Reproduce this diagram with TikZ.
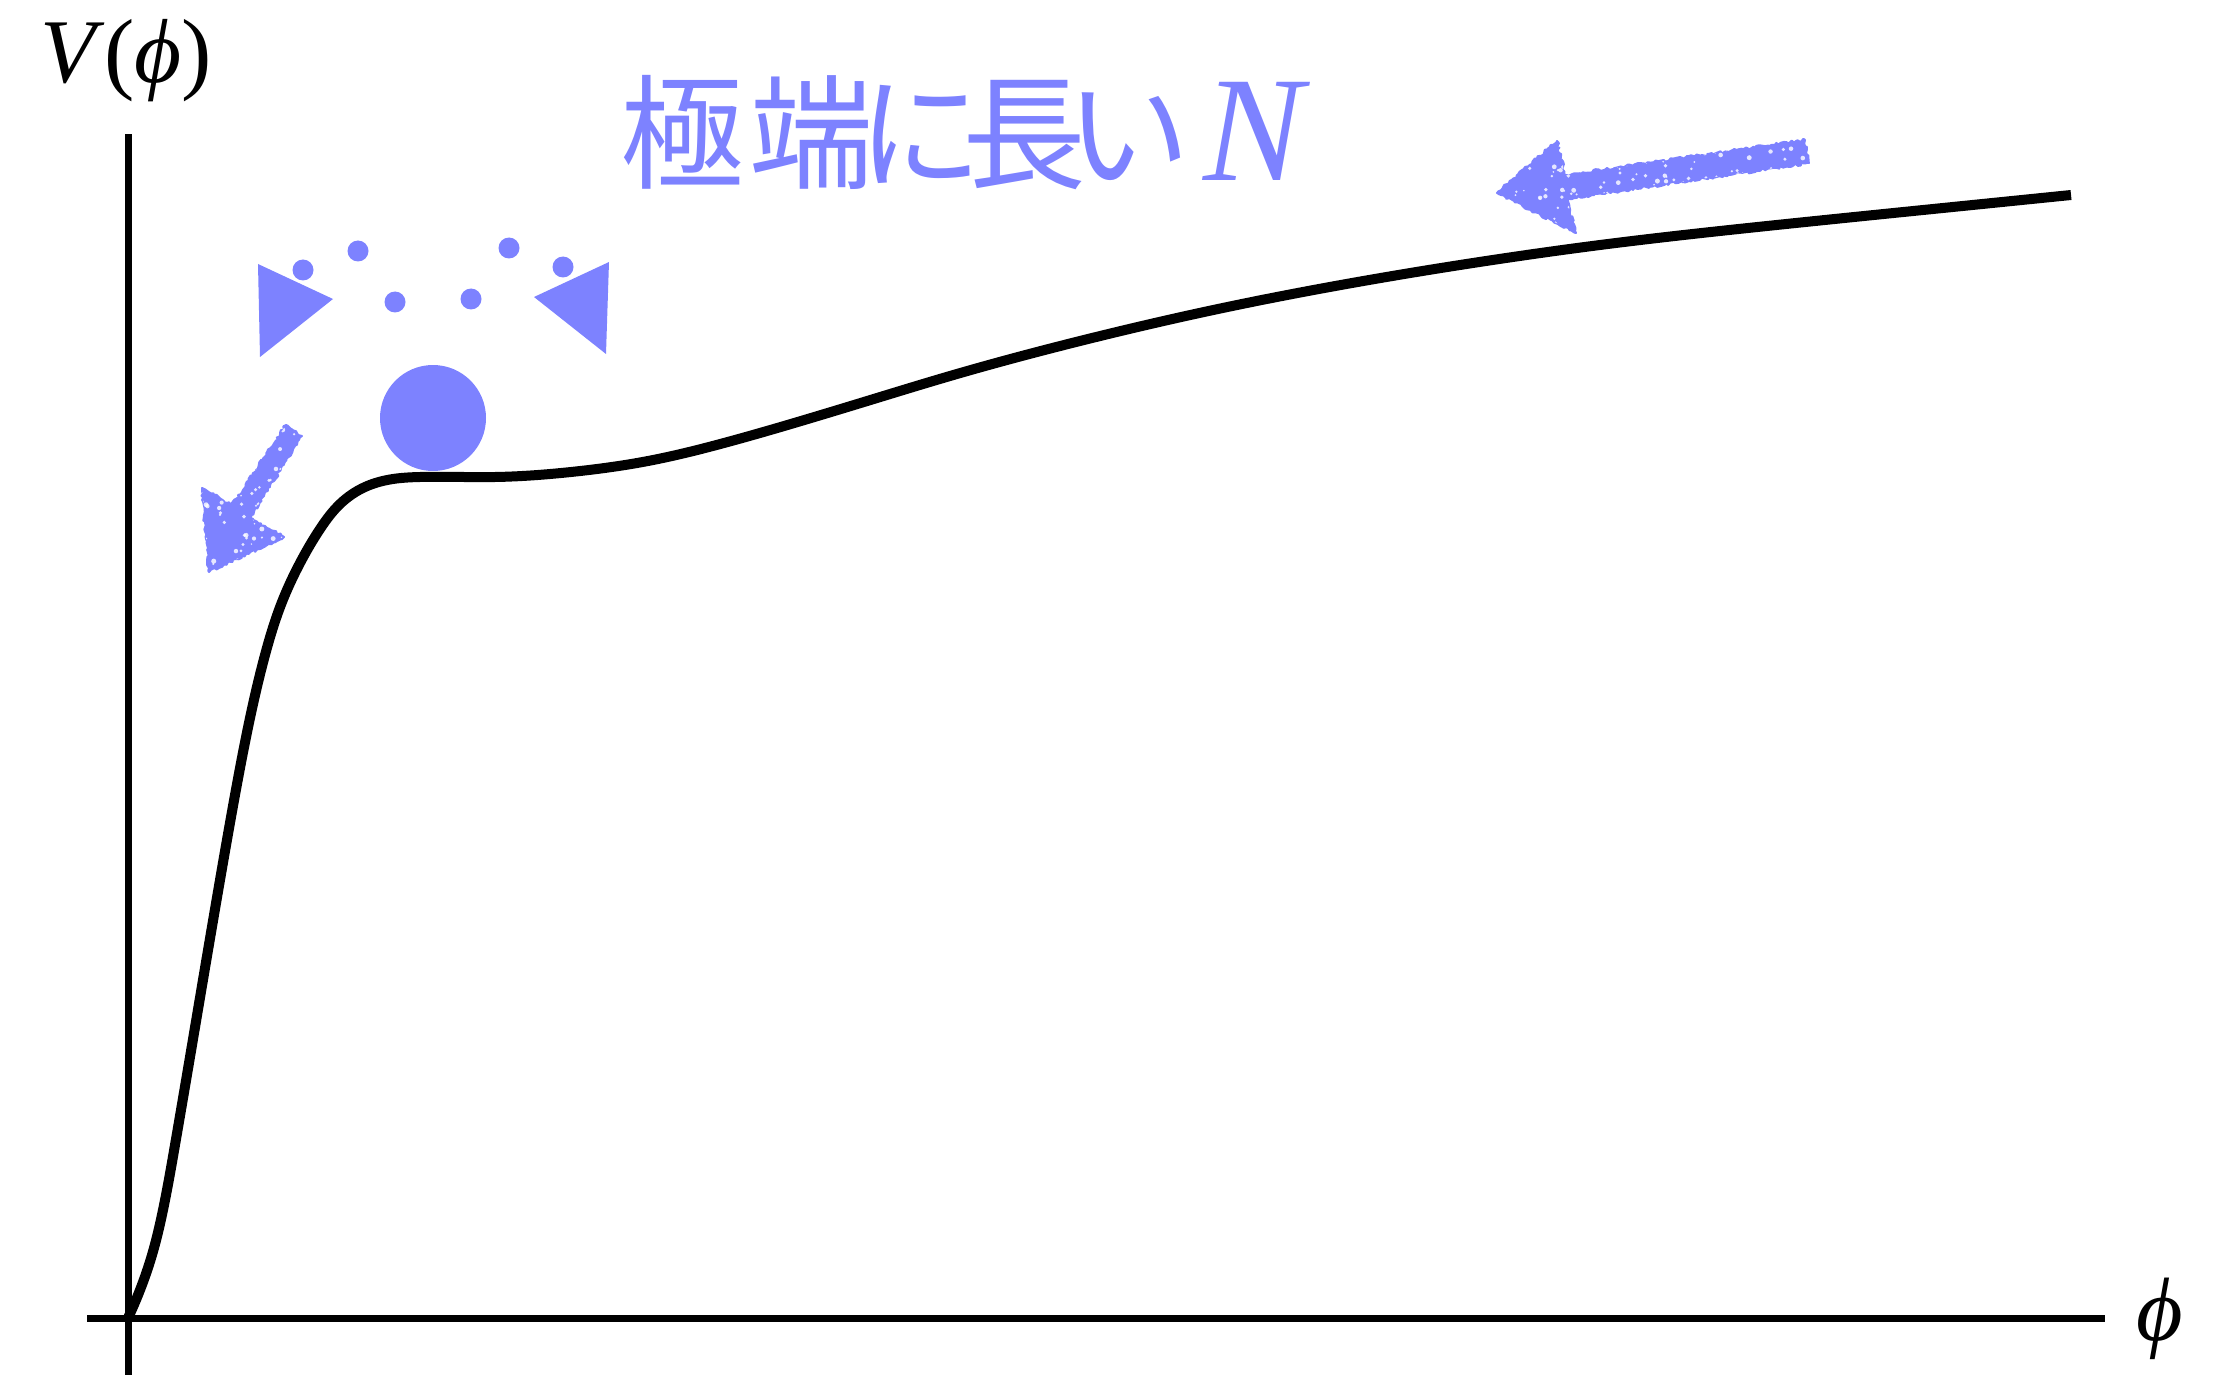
\documentclass[tikz,border=0pt]{standalone}
\usepackage{fontspec}
\setmainfont{Liberation Serif}
\newfontfamily\cjk{Noto Sans CJK JP}
\usetikzlibrary{decorations.pathmorphing,hobby}
\definecolor{chalk}{RGB}{125,130,255}
\tikzset{
  axisline/.style={line width=3.5pt,black},
  potline/.style={line width=5pt,black},
  chalkarrow/.style={fill=chalk,draw=chalk,line width=1pt,line join=round,decorate,decoration={random steps,segment length=1.2pt,amplitude=0.7pt}},
  speck/.style={fill=white,opacity=0.8},
  dotball/.style={fill=chalk},
  lbl/.style={inner sep=0pt,outer sep=0pt},
  jp/.style={lbl,anchor=base,text=chalk,font=\cjk\fontsize{62pt}{70pt}\selectfont}
}
\begin{document}
\begin{tikzpicture}[x=0.5pt,y=-0.5pt]
\pgfmathsetseed{7}
\useasboundingbox (0,0) rectangle (2238,1375);
% axes
\coordinate (ytop) at (128,134);
\coordinate (ybot) at (128,1375);
\coordinate (xl) at (87,1318);
\coordinate (xr) at (2105,1318);
\draw[axisline] (ybot) -- (ytop);
\draw[axisline] (xl) -- (xr);
% labels
\node[lbl,anchor=base west,font=\fontsize{45.5pt}{50pt}\selectfont] (vlab) at (40,83) {\itshape V\/\upshape(\itshape ϕ\/\upshape)};
\node[lbl,anchor=base,font=\fontsize{45pt}{50pt}\selectfont] (philab) at (2160,1340) {\itshape ϕ};
% potential
\draw[potline,line join=round,use Hobby shortcut]
 (128,1318) .. (140,1290) .. (152,1255) .. (163,1210) .. (175,1145) .. (190,1057)
 .. (205,968) .. (220,880) .. (235,795) .. (250,718) .. (265,655) .. (282,602)
 .. (300,563) .. (320,529) .. (340,504) .. (365,487) .. (393,479) .. (420,477)
 .. (495,477) .. (571,472) .. (648,461) .. (724,443) .. (801,421) .. (877,398)
 .. (950,376) .. (1084,340) .. (1218,309) .. (1352,283) .. (1486,261)
 .. (1600,245) .. (1767,226) .. (1933,209) .. (2071,195);
% ball
\fill[dotball] (433,418) circle[radius=53];
% small dots
\foreach \p in {(303,270),(358,251),(395,302),(471,299),(509,248),(563,267)}
  \fill[dotball] \p circle[radius=10.5];
% triangles
\fill[chalk] (258,264) -- (333,299) -- (260,357) -- cycle;
\fill[chalk] (609,262) -- (534,297) -- (606,354) -- cycle;
% chalk arrows
\path[chalkarrow] (1497,193) -- (1557,141) -- (1565,175) -- (1805,140) -- (1809,163) -- (1567,199) -- (1576,233) -- cycle;
\begin{scope}
  \clip (1497,193) -- (1557,141) -- (1565,175) -- (1805,140) -- (1809,163) -- (1567,199) -- (1576,233) -- cycle;
  \foreach \i in {1,...,170}
    \fill[speck] ({1495+rnd*315},{138+rnd*97}) circle[radius={0.8+rnd*1.8}];
\end{scope}
\path[chalkarrow] (209,572) -- (202,488) -- (232,505) -- (286,425) -- (302,436) -- (250,518) -- (284,537) -- cycle;
\begin{scope}
  \clip (209,572) -- (202,488) -- (232,505) -- (286,425) -- (302,436) -- (250,518) -- (284,537) -- cycle;
  \foreach \i in {1,...,90}
    \fill[speck] ({200+rnd*105},{423+rnd*152}) circle[radius={0.8+rnd*1.8}];
\end{scope}
% title
\node[jp] (c1) at (682,180) {極};
\node[jp] (c2) at (811,180) {端};
\node[jp] (c3) at (920,180) {に};
\node[jp] (c4) at (1024,180) {長};
\node[jp] (c5) at (1128,180) {い};
\node[lbl,anchor=base,text=chalk,font=\fontsize{75pt}{80pt}\selectfont] (nlab) at (1254,181) {\itshape N};
\end{tikzpicture}
\end{document}
